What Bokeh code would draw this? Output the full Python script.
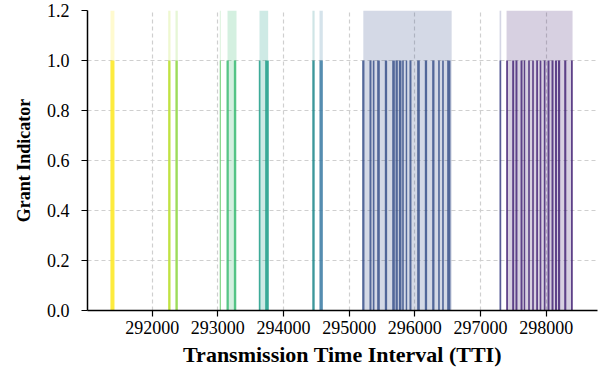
from bokeh.plotting import figure
from bokeh.models import ColumnDataSource, FixedTicker, Range1d, NumeralTickFormatter
from bokeh.embed import file_html
from bokeh.resources import INLINE

# ---- data ----
# individual grants (TTI centre)
grant_tti = [291395, 292261, 292372, 293037, 293149, 293261, 293636, 293748, 294456, 294573,
             295215, 295324, 295372, 295446, 295560, 295675, 295723, 295776, 295819, 295872,
             295933, 296055, 296169, 296281, 296367, 296428, 296517,
             297302,
             297404, 297497, 297547, 297624, 297669, 297738, 297799, 297861, 297913, 297976,
             298035, 298096, 298149, 298196, 298290, 298391]
grant_value = [1.0] * len(grant_tti)
grant_burst = [0, 1, 2, 3, 4, 4, 5, 5, 6, 7,
               8, 8, 8, 8, 8, 8, 8, 8, 8, 8,
               8, 8, 8, 8, 8, 8, 8,
               9,
               10, 10, 10, 10, 10, 10, 10, 10, 10, 10,
               10, 10, 10, 10, 10, 10]
# grant bursts: start / end TTI of the shaded band
burst_start = [291365, 292244, 292355, 293030, 293147, 293634, 294440, 294548, 295215, 297290, 297396]
burst_end = [291425, 292279, 292390, 293045, 293284, 293766, 294473, 294598, 296560, 297315, 298401]

x_ticks = [292000, 293000, 294000, 295000, 296000, 297000, 298000]
y_ticks = [0.0, 0.2, 0.4, 0.6, 0.8, 1.0, 1.2]

# ---- styling ----
burst_colors = ["#fde725", "#b8de29", "#8fd744", "#5ec962", "#3dbc74", "#1f9e89",
                "#238a8d", "#3e7ea6", "#3b528b", "#414487", "#482878"]
bar_widths = [60, 35, 35, 15, 35, 35, 25, 55, 35, 50,
              35, 30, 25, 40, 35, 40, 35, 40, 25, 22,
              30, 40, 35, 35, 25, 25, 50,
              25,
              27, 30, 30, 30, 22, 25, 25, 27, 25, 25,
              30, 30, 30, 33, 32, 27]

bar_src = ColumnDataSource(dict(
    x=grant_tti, top=grant_value, w=bar_widths,
    color=[burst_colors[g] for g in grant_burst]))
span_src = ColumnDataSource(dict(
    left=burst_start, right=burst_end, top=[1.2] * len(burst_start),
    bottom=[0.0] * len(burst_start), color=burst_colors))

p = figure(width=605, height=377, output_backend="svg", toolbar_location=None,
           x_range=Range1d(291015, 298781), y_range=Range1d(0, 1.2),
           min_border_left=87, min_border_right=8, min_border_top=10, min_border_bottom=67)
p.outline_line_color = None
p.background_fill_color = "white"
p.border_fill_color = "white"

p.quad(left="left", right="right", top="top", bottom="bottom", source=span_src,
       fill_color="color", fill_alpha=0.22, line_color=None)
p.vbar(x="x", top="top", bottom=0, width="w", source=bar_src,
       fill_color="color", fill_alpha=0.85, line_color=None)

serif = "Liberation Serif"
for ax in (p.xaxis[0], p.yaxis[0]):
    ax.axis_line_color = "black"
    ax.axis_line_width = 1.5
    ax.major_tick_line_color = "black"
    ax.major_tick_line_width = 1.2
    ax.major_tick_out = 6
    ax.major_tick_in = 0
    ax.minor_tick_line_color = None
    ax.major_label_text_font = serif
    ax.major_label_text_font_size = "18px"
    ax.major_label_text_color = "black"
    ax.axis_label_text_font = serif
    ax.axis_label_text_font_style = "bold"
    ax.axis_label_text_color = "black"

p.xaxis.ticker = FixedTicker(ticks=x_ticks)
p.yaxis.ticker = FixedTicker(ticks=y_ticks)
p.xaxis.formatter = NumeralTickFormatter(format="0")
p.yaxis.formatter = NumeralTickFormatter(format="0.0")
p.xaxis.axis_label = "Transmission Time Interval (TTI)"
p.yaxis.axis_label = "Grant Indicator"
p.xaxis.axis_label_text_font_size = "22px"
p.yaxis.axis_label_text_font_size = "18px"
p.xaxis.major_label_standoff = 4
p.yaxis.major_label_standoff = 12
p.xaxis.axis_label_standoff = 5
p.yaxis.axis_label_standoff = 10

for g in (p.xgrid[0], p.ygrid[0]):
    g.grid_line_color = "#cfcfcf"
    g.grid_line_dash = "4 3"
    g.grid_line_width = 1.2

open("out.html", "w").write(file_html(p, INLINE))
